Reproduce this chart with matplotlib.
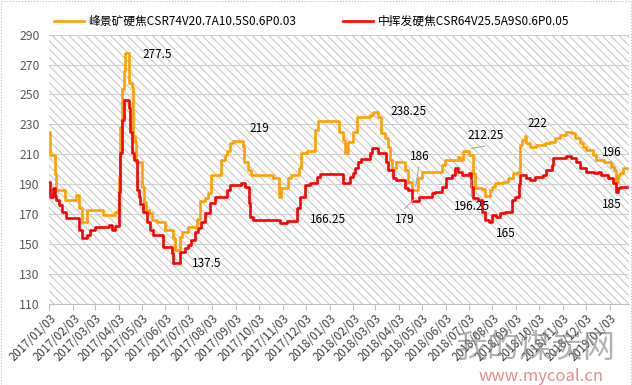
import matplotlib
matplotlib.use('Agg')
import matplotlib.pyplot as plt
import matplotlib.dates as mdates
from matplotlib.patches import Rectangle
import pandas as pd

# 字体设置
plt.rcParams['font.family'] = ['Noto Sans CJK SC', 'DejaVu Sans']
plt.rcParams['axes.unicode_minus'] = False
plt.rcParams['hatch.linewidth'] = 0.8
plt.rcParams['hatch.color'] = '#c8c8c8'

start = pd.Timestamp('2017-01-03')

# 峰景矿硬焦: 距 2017-01-03 的天数 / 价格
fj_day = [0, 1, 7, 9, 20, 35, 38, 42, 49, 70, 85, 89, 90, 92, 95, 97, 99, 104, 107, 109,
          111, 113, 120, 123, 126, 129, 133, 140, 150, 161, 163, 170, 173, 180, 192, 196, 202, 206, 211, 224,
          228, 231, 235, 239, 252, 253, 259, 263, 291, 299, 301, 311, 315, 325, 328, 335, 346, 350, 377, 380,
          383, 385, 389, 396, 400, 417, 422, 428, 432, 437, 441, 443, 446, 452, 463, 467, 472, 480, 485, 511,
          515, 532, 535, 539, 547, 552, 554, 563, 567, 574, 576, 580, 591, 597, 604, 610, 613, 616, 619, 621,
          626, 634, 645, 652, 658, 665, 673, 680, 684, 691, 695, 699, 708, 712, 723, 732, 735, 738, 741, 743,
          747, 752]
fj_val = [225, 209.5, 197, 186, 179.5, 183, 174, 165, 172.5, 169.5, 171.5, 173, 195, 228, 254, 266, 277.5, 257.5, 255, 222,
          218.5, 205, 188, 178, 172.5, 170.5, 166, 165, 159.5, 154, 146, 155, 158.3, 161.6, 167, 178.5, 180.6, 184, 196, 206,
          209.6, 212, 217.4, 219, 215, 205, 199.4, 196.2, 194, 181.6, 187.2, 194, 196.2, 200.6, 210.6, 212, 226, 232, 225, 225,
          219.5, 210.6, 218.4, 225, 235, 236.3, 238.25, 235, 224, 220.7, 215, 206, 200.6, 205, 199.4, 191.6, 186, 194, 198.3, 202.8,
          206.2, 208.4, 206.2, 212.25, 209.6, 197.2, 187.2, 186.5, 181.8, 186, 188.3, 190.5, 191.6, 194, 197.2, 198.3, 216, 219.5, 222, 217.3,
          214.7, 216.2, 217.4, 218.4, 220.7, 223, 225, 224, 220.7, 217.4, 215, 213, 209.6, 206.2, 205, 201.7, 199.4, 191.6, 196, 197.2,
          200.6, 200.6]

# 中挥发硬焦
zh_day = [0, 1, 5, 7, 9, 12, 16, 22, 38, 42, 49, 53, 59, 77, 81, 85, 91, 92, 95, 97,
          104, 105, 107, 110, 114, 116, 118, 122, 127, 131, 135, 148, 159, 161, 170, 176, 181, 185, 189, 194,
          198, 202, 209, 215, 231, 235, 250, 255, 260, 261, 265, 300, 309, 322, 326, 333, 339, 348, 352, 382,
          391, 395, 398, 402, 406, 417, 420, 428, 439, 441, 448, 452, 463, 467, 472, 482, 498, 502, 511, 517,
          524, 528, 532, 537, 547, 549, 552, 558, 563, 567, 573, 576, 582, 587, 593, 602, 606, 612, 613, 621,
          626, 632, 643, 647, 654, 656, 673, 680, 686, 691, 699, 710, 715, 719, 728, 734, 738, 740, 743, 752]
zh_val = [191.7, 181.7, 187.2, 182, 179.4, 176, 171.6, 167.2, 159.4, 153.8, 156, 159.4, 161.2, 162.7, 159.4, 162, 185, 210.7, 233, 246.4,
          240.8, 225, 210.7, 206.3, 186, 181.6, 177, 171.6, 164.9, 159.4, 156, 148.2, 143.7, 137.5, 144.8, 147.1, 149.3, 152.6, 158.2, 160.4,
          164.9, 170.5, 177.2, 181.6, 186.1, 189.4, 191, 188.4, 177.2, 168.3, 166.25, 164.3, 165.6, 174, 181.6, 189.4, 190.5, 194.5, 197, 191,
          195, 197.3, 200.6, 205, 206.6, 210.6, 213.9, 210.6, 205, 199.4, 193.9, 192.7, 187.2, 186.1, 179, 181.6, 183.9, 185, 188.3, 193.9,
          196.1, 200.6, 198.4, 196.25, 197.2, 188.3, 180.5, 179.4, 171.6, 166, 165, 169.4, 168.3, 170.5, 171.6, 179.4, 181.6, 190, 196.1, 193.9,
          192.7, 195, 196.1, 199.4, 202.8, 207.3, 208.8, 207.3, 205.1, 200.6, 198.3, 197.2, 198.3, 196.1, 193.9, 190.5, 185, 187.2, 188.3, 188.3]

names = ['峰景矿硬焦CSR74V20.7A10.5S0.6P0.03', '中挥发硬焦CSR64V25.5A9S0.6P0.05']
colors = ['#ffa000', '#ff0000']

# 数据标签 (文字, 天数, 纵坐标)
ann_text = ['277.5', '219', '238.25', '186', '212.25', '222', '196',
            '137.5', '166.25', '179', '196.25', '165', '185']
ann_day = [141, 274, 468, 482, 568, 636, 732, 205, 363, 463, 551, 595, 732]
ann_y = [276.9, 227.1, 238.5, 208.4, 222.9, 230.7, 211.3, 137.1, 166.1, 166.1, 175, 157.2, 176.1]

# 引导线 (起点天数, 起点值, 终点天数, 终点值)
lead = [(481, 201.3, 477, 188.3), (463, 173.9, 474, 179.4), (550, 181.6, 549, 192.8),
        (567, 215.5, 550, 214), (732, 205, 738, 199.5)]


def to_date(days):
    return start + pd.to_timedelta(days, unit='D')


fig = plt.figure(figsize=(6.32, 3.85), dpi=100)
ax = fig.add_axes([0.0783, 0.2109, 0.917, 0.699])

# 斜线底纹
ax.add_patch(Rectangle((0, 0), 1, 1, transform=ax.transAxes, facecolor='white',
                       edgecolor='#c8c8c8', hatch='\\\\\\\\', lw=0, zorder=0.5))

lines = []
for d, v, name, c in [(fj_day, fj_val, names[0], colors[0]), (zh_day, zh_val, names[1], colors[1])]:
    line, = ax.plot(to_date(d), v, drawstyle='steps-post', color=c, lw=1.9, label=name, zorder=3)
    lines.append(line)

for t, d, y in zip(ann_text, ann_day, ann_y):
    ax.text(to_date(d), y, t, ha='center', va='center', fontsize=8.5, color='black', zorder=5)

for d0, v0, d1, v1 in lead:
    ax.plot([to_date(d0), to_date(d1)], [v0, v1], color='#a6a6a6', lw=0.8, zorder=4)

ax.set_ylim(110, 290)
ax.set_yticks(range(110, 291, 20))
ax.set_xlim(start, to_date(755))
ax.grid(axis='y', color='#d0d0d0', lw=0.8, zorder=1)
ax.set_axisbelow(False)

ticks = pd.date_range('2017-01-01', '2019-01-01', freq='MS') + pd.Timedelta(days=2)
ax.set_xticks(ticks)
ax.xaxis.set_major_formatter(mdates.DateFormatter('%Y/%m/%d'))
plt.setp(ax.get_xticklabels(), rotation=45, ha='right', rotation_mode='anchor',
         fontsize=8.3, color='#404040')
ax.tick_params(axis='x', length=4, color='#bfbfbf', pad=2)
ax.tick_params(axis='y', length=0, labelsize=8.8, labelcolor='#595959', pad=7)

for s in ['top', 'right', 'left']:
    ax.spines[s].set_visible(False)
ax.spines['bottom'].set_color('#bfbfbf')

fig.legend(handles=lines, loc='center left', bbox_to_anchor=(0.078, 0.945), ncol=2,
           frameon=False, fontsize=8.5, handlelength=2.5, handletextpad=0.4,
           columnspacing=4.0, borderaxespad=0)

# 水印
fig.text(0.847, 0.096, '我的煤炭网', fontsize=23, color='#7f7f7f', alpha=0.6,
         ha='center', va='center', zorder=10)
fig.text(0.856, 0.023, 'www.mycoal.cn', fontsize=12, color='#d04040', alpha=0.6,
         ha='center', va='center', zorder=10)

# 外框
fig.add_artist(Rectangle((0.001, 0.001), 0.998, 0.997, transform=fig.transFigure, fill=False,
                         edgecolor='#bfbfbf', lw=0.8, ls=':'))

fig.savefig('out.png', dpi=100)
